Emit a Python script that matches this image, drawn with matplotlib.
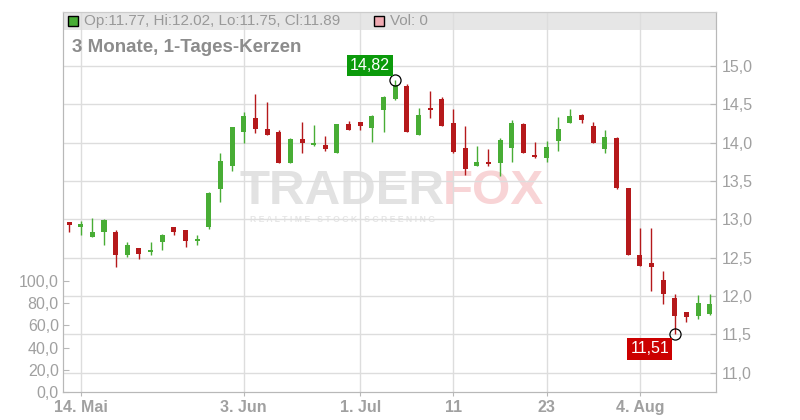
import matplotlib
matplotlib.use("Agg")
import matplotlib.pyplot as plt
from matplotlib.patches import Rectangle

plt.rcParams["font.family"] = ["Liberation Sans", "DejaVu Sans"]

# daily candles (one entry per candle)
opens = [12.965, 12.90, 12.77, 12.84, 12.835, 12.53, 12.63, 12.575, 12.71, 12.90,
         12.86, 12.72, 12.90, 13.39, 13.70, 14.14, 14.32, 14.18, 14.14, 13.73,
         14.05, 13.97, 13.97, 13.87, 14.245, 14.27, 14.195, 14.42, 14.57, 14.74,
         14.10, 14.45, 14.57, 14.26, 13.93, 13.70, 13.75, 13.74, 13.93, 14.245,
         13.84, 13.80, 14.02, 14.26, 14.365, 14.22, 13.92, 14.06, 13.41, 12.53,
         12.435, 12.21, 11.97, 11.79, 11.74, 11.77]
highs = [12.965, 12.98, 13.02, 13.00, 12.86, 12.70, 12.63, 12.70, 12.81, 12.90,
         12.86, 12.80, 13.36, 13.865, 14.205, 14.40, 14.635, 14.53, 14.16, 14.06,
         14.27, 14.23, 14.09, 14.245, 14.28, 14.27, 14.36, 14.61, 14.82, 14.765,
         14.45, 14.67, 14.595, 14.44, 14.22, 13.96, 13.92, 14.06, 14.30, 14.26,
         14.01, 14.02, 14.335, 14.44, 14.38, 14.27, 14.165, 14.07, 13.41, 12.89,
         12.89, 12.33, 12.03, 11.79, 12.01, 12.02]
lows = [12.83, 12.79, 12.77, 12.67, 12.38, 12.51, 12.48, 12.54, 12.60, 12.80,
        12.64, 12.67, 12.88, 13.22, 13.63, 14.00, 14.13, 14.10, 13.73, 13.73,
        13.87, 13.96, 13.895, 13.87, 14.17, 14.17, 14.01, 14.14, 14.55, 14.14,
        14.10, 14.32, 14.22, 13.87, 13.58, 13.69, 13.69, 13.56, 13.75, 13.86,
        13.80, 13.75, 13.895, 14.25, 14.25, 13.99, 13.86, 13.40, 12.53, 12.395,
        12.07, 11.89, 11.51, 11.665, 11.70, 11.75]
closes = [12.93, 12.94, 12.835, 12.99, 12.54, 12.665, 12.55, 12.60, 12.80, 12.83,
          12.72, 12.74, 13.34, 13.76, 14.205, 14.35, 14.18, 14.10, 13.73, 14.05,
          14.00, 13.99, 13.92, 14.245, 14.17, 14.22, 14.35, 14.60, 14.75, 14.14,
          14.36, 14.43, 14.22, 13.88, 13.65, 13.75, 13.73, 14.035, 14.26, 13.87,
          13.82, 13.94, 14.18, 14.35, 14.29, 13.99, 14.07, 13.405, 12.53, 12.395,
          12.38, 12.02, 11.74, 11.72, 11.91, 11.89]
volume = [0] * len(opens)

tick_idx = [1, 15, 25, 33, 41, 49]
tick_labels = ["14. Mai", "3. Jun", "1. Jul", "11", "23", "4. Aug"]
price_ticks = [11.0, 11.5, 12.0, 12.5, 13.0, 13.5, 14.0, 14.5, 15.0]
vol_ticks = [0, 20, 40, 60, 80, 100]

GREEN = "#48ad35"
RED = "#b5191b"
GRID = "#dddddd"
TXT = "#a0a0a0"
SPINE = "#b8b8b8"

fig = plt.figure(figsize=(8, 4.2), dpi=100)
W, H = 800, 420
ax = fig.add_axes([63 / W, 28 / H, (716 - 63) / W, (392 - 12) / H])
ax.set_zorder(1)
pax = ax.twinx()

n = len(opens)
x = list(range(n))

# volume axis (left)
ax.bar(x, volume, width=0.45, color="#f0b0b5")
ax.set_ylim(0, 342)
ax.set_yticks(vol_ticks)
ax.set_yticklabels([f"{v:.1f}".replace(".", ",") for v in vol_ticks])
ax.set_xlim(-0.52, 55.54)
ax.set_xticks(tick_idx)
ax.set_xticklabels(tick_labels, fontweight="bold")
ax.grid(axis="x", color=GRID, lw=1)
ax.set_axisbelow(True)
ax.tick_params(axis="y", direction="in", length=4, color=SPINE, labelcolor=TXT,
               labelsize=11.5, pad=3)
ax.tick_params(axis="x", direction="out", length=3, color=SPINE, labelcolor=TXT,
               labelsize=11.5, pad=3)

# header band
ax.add_patch(Rectangle((0, (380 - 18) / 380), 1, 18 / 380, transform=ax.transAxes,
                       facecolor="#e6e6e6", edgecolor="none", zorder=0.2))

# price axis (right)
pax.set_ylim(10.748, 15.704)
pax.set_yticks(price_ticks)
pax.set_yticklabels([f"{v:.1f}".replace(".", ",") for v in price_ticks])
pax.grid(axis="y", color=GRID, lw=1)
pax.tick_params(axis="y", direction="in", length=4, color=SPINE, labelcolor=TXT,
                labelsize=11.5, pad=4)

for a in (ax, pax):
    for s in a.spines.values():
        s.set_color(SPINE)
    a.spines["top"].set_color("#cccccc")

# candles
for i in x:
    o, h, l, c = opens[i], highs[i], lows[i], closes[i]
    col = GREEN if c >= o else RED
    pax.vlines(i, l, h, color=col, lw=1.0, zorder=3)
    lo, hi = min(o, c), max(o, c)
    if hi - lo < 0.025:
        mid = (hi + lo) / 2
        lo, hi = mid - 0.0125, mid + 0.0125
    pax.bar(i, hi - lo, bottom=lo, width=0.43, color=col, zorder=4, lw=0)

# max / min markers
imax = highs.index(max(highs))
imin = lows.index(min(lows))
pax.plot([imax, imin], [highs[imax], lows[imin]], "o", mfc="none", mec="black",
         ms=8, mew=0.9, zorder=5)
pax.annotate(f"{highs[imax]:.2f}".replace(".", ","), (imax, highs[imax]),
             xytext=(-18, 10.5), textcoords="offset points", ha="center", va="center",
             color="white", fontsize=11.5,
             bbox=dict(boxstyle="square,pad=0.2", fc="#0b9a0b", ec="none"), zorder=6)
pax.annotate(f"{lows[imin]:.2f}".replace(".", ","), (imin, lows[imin]),
             xytext=(-18, -11), textcoords="offset points", ha="center", va="center",
             color="white", fontsize=11.5,
             bbox=dict(boxstyle="square,pad=0.2", fc="#cc0000", ec="none"), zorder=6)

# watermark
ax.text(240 / W, 1 - 192 / H, "TRADER", transform=fig.transFigure, fontsize=35.5,
        fontweight="bold", color="#e2e2e2", va="center", ha="left", zorder=0.3)
ax.text(443 / W, 1 - 192 / H, "FOX", transform=fig.transFigure, fontsize=35.5,
        fontweight="bold", color="#f8d4d6", va="center", ha="left", zorder=0.3)
ax.text(250 / W, 1 - 219 / H, "R E A L T I M E   S T O C K   S C R E E N I N G",
        transform=fig.transFigure, fontsize=6.2, fontweight="bold", color="#e6e6e6",
        va="center", ha="left", zorder=0.3)

# header legend and title
fig.patches.append(Rectangle((68 / W, 1 - 26 / H), 10 / W, 10 / H, transform=fig.transFigure,
                             facecolor="#48ad35", edgecolor="black", lw=1, zorder=5))
fig.text(84 / W, 1 - 21 / H, f"Op:{opens[-1]:.2f}, Hi:{highs[-1]:.2f}, "
         f"Lo:{lows[-1]:.2f}, Cl:{closes[-1]:.2f}", fontsize=11, color="#999999",
         va="center", ha="left")
fig.patches.append(Rectangle((374 / W, 1 - 26 / H), 10 / W, 10 / H, transform=fig.transFigure,
                             facecolor="#f0aab2", edgecolor="black", lw=1, zorder=5))
fig.text(390 / W, 1 - 21 / H, f"Vol: {volume[-1]}", fontsize=11, color="#999999",
         va="center", ha="left")
fig.text(72 / W, 1 - 47 / H, "3 Monate, 1-Tages-Kerzen", fontsize=13.5, fontweight="bold",
         color="#8c8c8c", va="center", ha="left")

fig.savefig("out.png", dpi=100)
